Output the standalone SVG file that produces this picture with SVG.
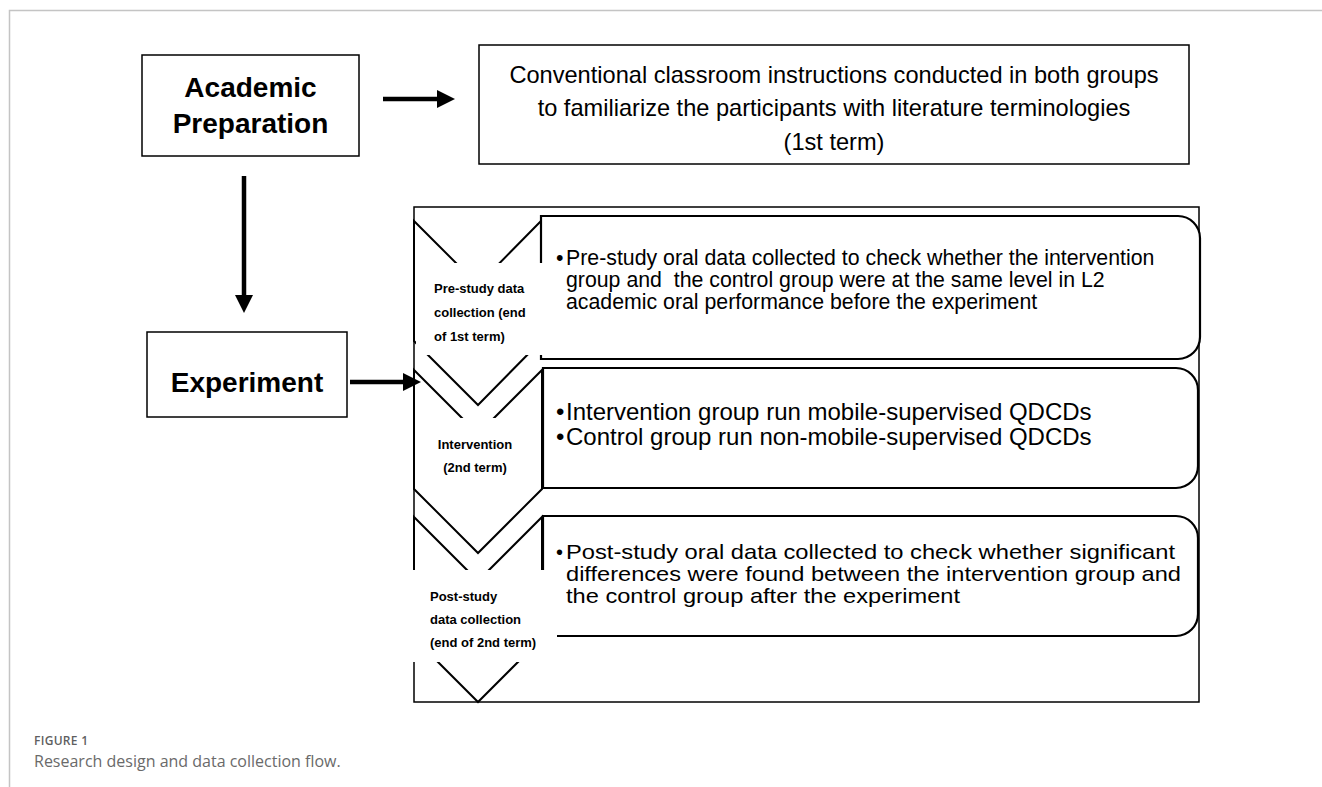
<svg xmlns="http://www.w3.org/2000/svg" width="1322" height="787" viewBox="0 0 1322 787">
<style>
.frame{fill:none;stroke:#c4c4c4;stroke-width:1.5}
.box{fill:#fff;stroke:#000;stroke-width:1.5}
.chev{fill:#fff;stroke:#000;stroke-width:2}
.rbox{fill:#fff;stroke:#000;stroke-width:2.2}
.mask{fill:#fff;stroke:none}
.conn{fill:none;stroke:#000;stroke-width:4.5}
text{font-family:"Liberation Sans",Arial,sans-serif;fill:#000}
.big{font-size:28px;font-weight:bold;text-anchor:middle}
.top{font-size:23.6px;text-anchor:middle}
.lab{font-size:13px;font-weight:bold}
.b1{font-size:21.3px}
.b2{font-size:24px}
.b3{font-size:21px}
.cap1{font-family:"Open Sans",sans-serif;font-size:12px;font-weight:600;fill:#5f5f5f;letter-spacing:0.3px}
.cap2{font-family:"Open Sans",sans-serif;font-size:16px;fill:#6a6a6a}
</style>
<defs>
<marker id="ah" markerUnits="userSpaceOnUse" markerWidth="18" markerHeight="18" viewBox="0 0 18 18" refX="0" refY="9" orient="auto">
<path d="M0,0 L18,9 L0,18 Z" fill="#000"/>
</marker>
</defs>
<g id="page-frame">
<path class="frame" d="M9.5,787 V10.5 H1322"/>
</g>
<g id="academic-preparation">
<rect class="box" x="142" y="55" width="217" height="101"/>
<text class="big" x="250.5" y="97">Academic</text>
<text class="big" x="250.5" y="133">Preparation</text>
</g>
<g id="conventional-instructions">
<rect class="box" x="479" y="45" width="710" height="119"/>
<text class="top" x="834" y="83">Conventional classroom instructions conducted in both groups</text>
<text class="top" x="834" y="116">to familiarize the participants with literature terminologies</text>
<text class="top" x="834" y="150">(1st term)</text>
</g>
<g id="experiment">
<rect class="box" x="147" y="332" width="200" height="85"/>
<text class="big" x="247" y="392">Experiment</text>
</g>
<g id="stages-frame">
<rect x="414" y="207" width="785" height="495" fill="#fff" stroke="#000" stroke-width="1.5"/>
</g>
<g id="stage-pre">
<path class="chev" d="M414,221 L478,285 L541,221 L541,341 L478,405 L414,341 Z"/>
<path class="rbox" d="M541,216 H1178 A22,22 0 0 1 1200,238 V337 A22,22 0 0 1 1178,359 H541 Z"/>
<rect class="mask" x="416" y="263" width="129" height="92"/>
<text class="lab" x="434" y="293">Pre-study data</text>
<text class="lab" x="434" y="317">collection (end</text>
<text class="lab" x="434" y="341">of 1st term)</text>
<text class="b1" x="556" y="265">•</text>
<text class="b1" x="566" y="265">Pre-study oral data collected to check whether the intervention</text>
<text class="b1" x="566" y="287" xml:space="preserve">group and  the control group were at the same level in L2</text>
<text class="b1" x="566" y="309">academic oral performance before the experiment</text>
</g>
<g id="stage-intervention">
<path class="chev" d="M414,370 L478,434 L542,370 L542,489 L478,553 L414,489 Z"/>
<path class="rbox" d="M543,368 H1176 A22,22 0 0 1 1198,390 V466 A22,22 0 0 1 1176,488 H543 Z"/>
<rect class="mask" x="420" y="418" width="115" height="62"/>
<text class="lab" x="475" y="449" text-anchor="middle">Intervention</text>
<text class="lab" x="475" y="472" text-anchor="middle">(2nd term)</text>
<text class="b2" x="556" y="420">•</text>
<text class="b2" x="566" y="420">Intervention group run mobile-supervised QDCDs</text>
<text class="b2" x="556" y="445">•</text>
<text class="b2" x="566" y="445">Control group run non-mobile-supervised QDCDs</text>
</g>
<g id="stage-post">
<path class="chev" d="M414,517 L478,581 L542,517 L542,638 L478,702 L414,638 Z"/>
<path class="rbox" d="M543,516 H1176 A22,22 0 0 1 1198,538 V614 A22,22 0 0 1 1176,636 H543 Z"/>
<rect class="mask" x="400" y="570" width="157" height="92"/>
<text class="lab" x="430" y="601">Post-study</text>
<text class="lab" x="430" y="624">data collection</text>
<text class="lab" x="430" y="647">(end of 2nd term)</text>
<text class="b3" x="556" y="559" textLength="7" lengthAdjust="spacingAndGlyphs">•</text>
<text class="b3" x="566" y="559" textLength="609" lengthAdjust="spacingAndGlyphs">Post-study oral data collected to check whether significant</text>
<text class="b3" x="566" y="581" textLength="615" lengthAdjust="spacingAndGlyphs">differences were found between the intervention group and</text>
<text class="b3" x="566" y="603" textLength="394" lengthAdjust="spacingAndGlyphs">the control group after the experiment</text>
</g>
<g id="connectors">
<line class="conn" x1="383" y1="99" x2="437" y2="99" marker-end="url(#ah)"/>
<line class="conn" x1="244" y1="176" x2="244" y2="295" marker-end="url(#ah)"/>
<line class="conn" x1="350" y1="382" x2="403" y2="382" marker-end="url(#ah)"/>
</g>
<g id="caption">
<text class="cap1" x="34" y="745">FIGURE 1</text>
<text class="cap2" x="34" y="767">Research design and data collection flow.</text>
</g>
</svg>
